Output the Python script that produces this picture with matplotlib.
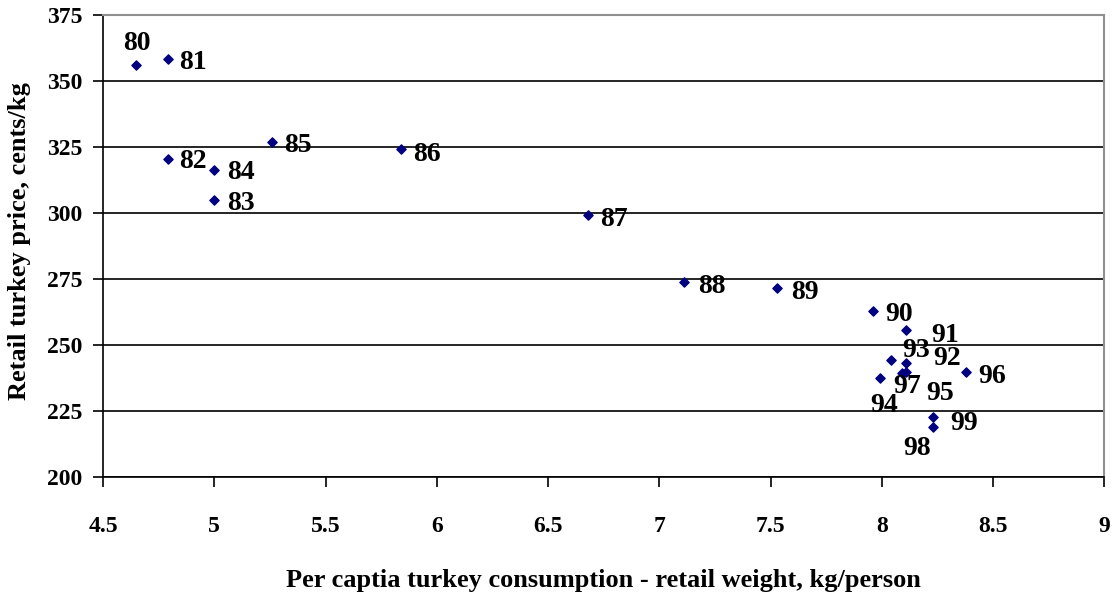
import matplotlib.pyplot as plt

# per capita consumption (kg/person) and retail price (cents/kg), 1980-1999
years = ['80', '81', '82', '83', '84', '85', '86', '87', '88', '89',
         '90', '91', '92', '93', '94', '95', '96', '97', '98', '99']
consumption = [4.65, 4.79, 4.79, 5.00, 5.00, 5.26, 5.84, 6.68, 7.11, 7.53,
               7.96, 8.11, 8.11, 8.04, 7.99, 8.11, 8.38, 8.09, 8.23, 8.23]
price = [356.1, 358.3, 320.5, 304.9, 316.3, 326.9, 324.2, 299.2, 273.9, 271.6,
         262.9, 255.7, 243.3, 244.3, 237.6, 239.9, 239.9, 239.5, 218.8, 222.7]

# label offsets in pixels (dx, dy) from each point
offsets = {'80': (-13, 21), '81': (12, -3), '82': (12, -3), '83': (13, -3),
           '84': (13, -3), '85': (12, -4), '86': (12, -5), '87': (12, -4),
           '88': (14, -5), '89': (14, -5), '90': (12, -4), '91': (25, -6),
           '92': (27, 4), '93': (12, 10), '94': (-9, -28), '95': (20, -22),
           '96': (12, -5), '97': (-9, -14), '98': (-30, -21), '99': (17, -6)}

plt.rcParams['font.family'] = ['Liberation Serif', 'DejaVu Serif']
plt.rcParams['font.weight'] = 'bold'

fig = plt.figure(figsize=(11.15, 5.97), dpi=100)
ax = fig.add_axes([0.0924, 0.201, 0.898, 0.774])

ax.scatter(consumption, price, marker='D', s=22, color='#000080', zorder=3)
for yr, x, y in zip(years, consumption, price):
    dx, dy = offsets[yr]
    ax.annotate(yr, xy=(x, y), xytext=(dx, dy), textcoords='offset pixels',
                fontsize=20, fontweight='bold', ha='left', va='center')

ax.set_xlim(4.5, 9)
ax.set_ylim(200, 375)
ax.set_xticks([4.5, 5, 5.5, 6, 6.5, 7, 7.5, 8, 8.5, 9])
ax.set_xticklabels(['4.5', '5', '5.5', '6', '6.5', '7', '7.5', '8', '8.5', '9'])
ax.set_yticks(range(200, 376, 25))
ax.yaxis.grid(True, color='black', linewidth=1.2)
ax.set_axisbelow(True)

for side in ['top', 'right']:
    ax.spines[side].set_color('#909090')
    ax.spines[side].set_linewidth(1.5)
for side in ['left', 'bottom']:
    ax.spines[side].set_color('black')
    ax.spines[side].set_linewidth(1.2)

ax.tick_params(direction='out', length=7, width=1.2, labelsize=17)
ax.tick_params(axis='x', pad=21)
ax.tick_params(axis='y', pad=8)

ax.set_xlabel('Per captia turkey consumption - retail weight, kg/person',
              fontsize=19, fontweight='bold', va='center')
ax.xaxis.set_label_coords(0.5, -0.225)
ax.set_ylabel('Retail turkey price, cents/kg', fontsize=19, fontweight='bold',
              va='center')
ax.yaxis.set_label_coords(-0.083, 0.51)

plt.savefig('out.png', dpi=100)
